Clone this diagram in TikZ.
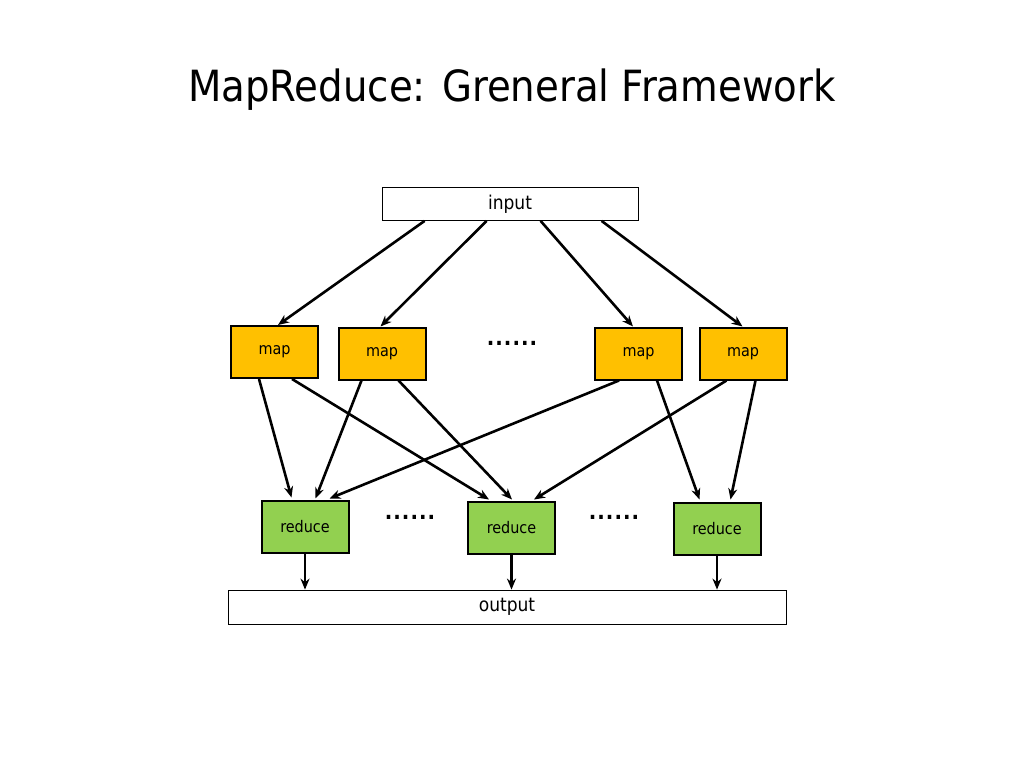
\documentclass[tikz,border=0pt]{standalone}
\usepackage{fontspec}
\setmainfont{DejaVu Sans Condensed}
\usetikzlibrary{calc,arrows.meta}
\begin{document}
\begin{tikzpicture}[x=1pt,y=-1pt,
 box/.style={draw,line width=0.8pt,minimum height=33pt,inner sep=0pt,font=\fontsize{19}{19}\selectfont},
 mp/.style={draw,line width=2pt,fill={rgb,255:red,255;green,192;blue,0},minimum width=87pt,minimum height=52pt,inner sep=0pt,font=\fontsize{16}{16}\selectfont},
 rd/.style={mp,fill={rgb,255:red,146;green,208;blue,80}},
 ar/.style={-{Stealth[length=11pt,width=9pt]},line width=2.6pt},
 dots/.style={font=\fontsize{22}{22}\selectfont\bfseries}]
\useasboundingbox (0,0) rectangle (1024,768);
\node at (512,90) {\fontsize{43}{43}\selectfont MapReduce: Greneral Framework};
\node[box,minimum width=256pt] (in) at (510,204) {input};
\node[box,minimum width=558pt,minimum height=34pt] (out) at (507,607) {output};
\node[mp] (m1) at (274.5,352) {map};
\node[mp] (m2) at (382,353.5) {map};
\node[mp] (m3) at (638.5,353.5) {map};
\node[mp] (m4) at (743,353.5) {map};
\node[rd] (r1) at (305,526.5) {reduce};
\node[rd] (r2) at (511.5,527.5) {reduce};
\node[rd] (r3) at (717,528.5) {reduce};
\node[dots] (d1) at (512,343) {.\kern1pt.\kern1pt.\kern1pt.\kern1pt.\kern1pt.};
\node[dots] (d2) at (410,517) {.\kern1pt.\kern1pt.\kern1pt.\kern1pt.\kern1pt.};
\node[dots] (d3) at (614,517) {.\kern1pt.\kern1pt.\kern1pt.\kern1pt.\kern1pt.};
\draw[ar] ($(in.south west)+(43,0)$) -- ($(m1.north west)+(48,0)$);
\draw[ar] ($(in.south west)+(105,0)$) -- ($(m2.north west)+(43,0)$);
\draw[ar] ($(in.south west)+(159,0)$) -- ($(m3.north west)+(39,0)$);
\draw[ar] ($(in.south west)+(220,0)$) -- ($(m4.north west)+(44,0)$);
\draw[ar] ($(m1.south west)+(29,0)$) -- ($(r1.north west)+(31,-2)$);
\draw[ar] ($(m1.south west)+(62,0)$) -- ($(r2.north west)+(22,-1)$);
\draw[ar] ($(m2.south west)+(24,0)$) -- ($(r1.north west)+(55,-1)$);
\draw[ar] ($(m2.south west)+(61,0)$) -- ($(r2.north west)+(45,-1)$);
\draw[ar] ($(m3.south west)+(25,0)$) -- ($(r1.north west)+(69,-1)$);
\draw[ar] ($(m3.south west)+(63,0)$) -- ($(r3.north west)+(27,-2)$);
\draw[ar] ($(m4.south west)+(28,0)$) -- ($(r2.north west)+(67,-1)$);
\draw[ar] ($(m4.south west)+(57,0)$) -- ($(r3.north west)+(58,-2)$);
\draw[ar] (r1.south) -- (r1.south |- out.north);
\draw[ar] (r2.south) -- (r2.south |- out.north);
\draw[ar] (r3.south) -- (r3.south |- out.north);
\end{tikzpicture}
\end{document}
